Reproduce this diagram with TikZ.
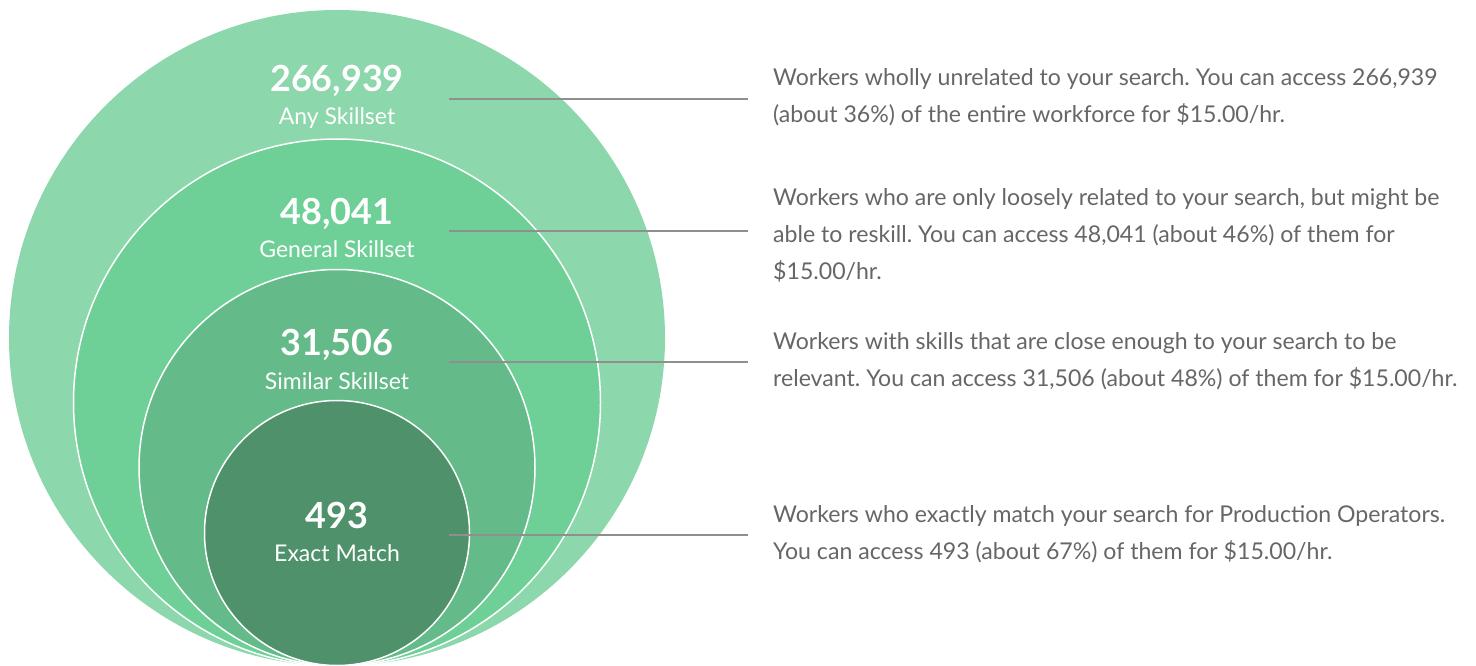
\documentclass[tikz,border=0pt]{standalone}
\usepackage{fontspec}
\setmainfont{Lato}
\frenchspacing
\definecolor{ring1}{HTML}{8CD7AB}
\definecolor{ring2}{HTML}{6ECF97}
\definecolor{ring3}{HTML}{64BA89}
\definecolor{ring4}{HTML}{4E916A}
\definecolor{txtgray}{HTML}{666666}
\definecolor{linegray}{HTML}{8F8F8F}
\tikzset{
  ring/.style={circle, inner sep=0pt, outer sep=0pt},
  num/.style={anchor=base, text=white, font=\fontsize{36}{42}\selectfont\bfseries, inner sep=0pt},
  lab/.style={anchor=base, text=white, font=\fontsize{23}{27}\selectfont, inner sep=0pt},
  desc/.style={anchor=base west, text=txtgray, font=\fontsize{23.1}{37}\selectfont\frenchspacing, inner sep=0pt},
  leader/.style={draw=linegray, line width=1.6pt}
}
\begin{document}
\begin{tikzpicture}[x=1pt,y=-1pt]
\useasboundingbox (0,0) rectangle (1476,666);
\node[ring, fill=ring1, minimum size=656pt] (c1) at (337,338) {};
\node[ring, fill=ring2, draw=white, line width=1.5pt, minimum size=527pt] (c2) at (337,402.5) {};
\node[ring, fill=ring3, draw=white, line width=1.5pt, minimum size=396pt] (c3) at (337,467.5) {};
\node[ring, fill=ring4, draw=white, line width=1.5pt, minimum size=265pt] (c4) at (337,533) {};

\node[num] (n1) at (337,92) {266,939};
\node[lab] (l1) at (337,125) {Any Skillset};
\node[num] (n2) at (337,224) {48,041};
\node[lab] (l2) at (337,257) {General Skillset};
\node[num] (n3) at (337,355) {31,506};
\node[lab] (l3) at (337,389) {Similar Skillset};
\node[num] (n4) at (337,528) {493};
\node[lab] (l4) at (337,561) {Exact Match};

\node[desc] (t1a) at (773,86) {Workers wholly unrelated to your search. You can access 266,939};
\node[desc] (t1b) at (773,123) {(about 36\%) of the entire workforce for \$15.00/hr.};
\node[desc] (t2a) at (773,205) {Workers who are only loosely related to your search, but might be};
\node[desc] (t2b) at (773,242) {able to reskill. You can access 48,041 (about 46\%) of them for};
\node[desc] (t2c) at (773,279) {\$15.00/hr.};
\node[desc] (t3a) at (773,349) {Workers with skills that are close enough to your search to be};
\node[desc] (t3b) at (773,386) {relevant. You can access 31,506 (about 48\%) of them for \$15.00/hr.};
\node[desc] (t4a) at (773,522) {Workers who exactly match your search for Production Operators.};
\node[desc] (t4b) at (773,559) {You can access 493 (about 67\%) of them for \$15.00/hr.};

\coordinate (a1) at (449,99);  \coordinate (b1) at (748,99);
\coordinate (a2) at (449,231); \coordinate (b2) at (748,231);
\coordinate (a3) at (449,362); \coordinate (b3) at (748,362);
\coordinate (a4) at (449,535); \coordinate (b4) at (748,535);
\draw[leader] (a1) -- (b1);
\draw[leader] (a2) -- (b2);
\draw[leader] (a3) -- (b3);
\draw[leader] (a4) -- (b4);
\end{tikzpicture}
\end{document}
